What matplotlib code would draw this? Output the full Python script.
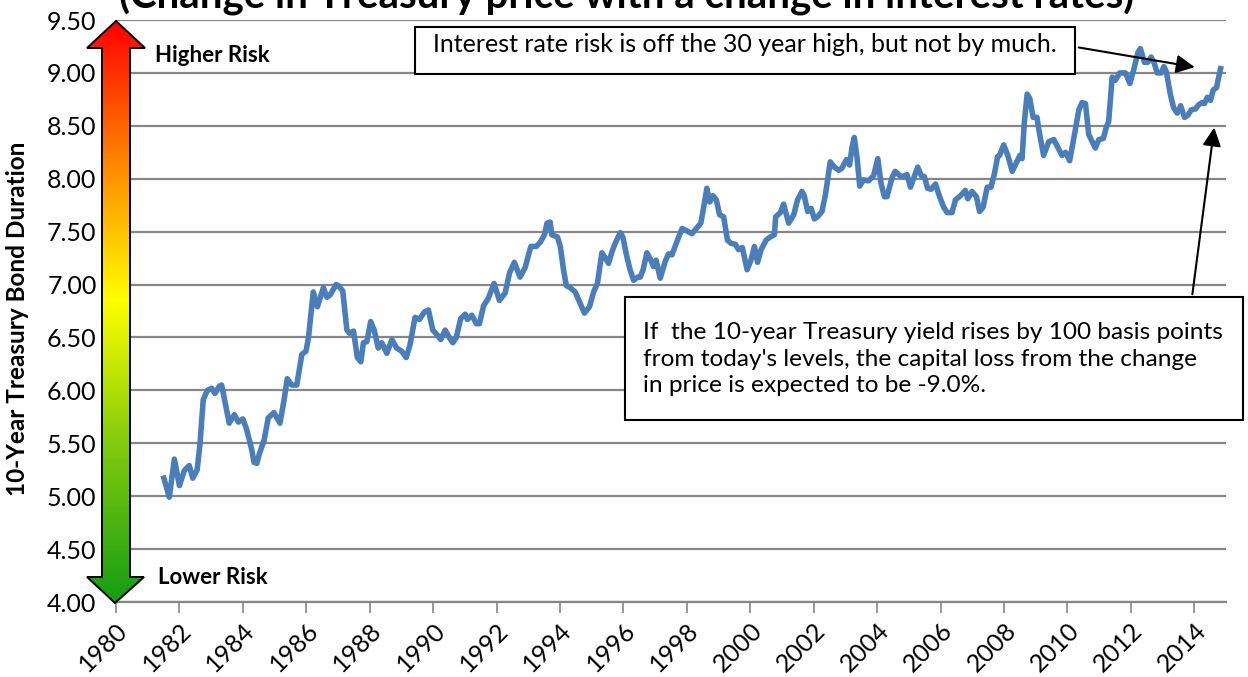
import matplotlib.pyplot as plt
import matplotlib.transforms as mtransforms
import numpy as np
from matplotlib.colors import LinearSegmentedColormap
from matplotlib.patches import Polygon, Rectangle

plt.rcParams["font.family"] = ["Lato", "DejaVu Sans"]

# 10-year Treasury bond duration (decimal year, duration)
years = [
    1981.51, 1981.68, 1981.84, 1982.00, 1982.15, 1982.31, 1982.42, 1982.56, 1982.65, 1982.75,
    1982.88, 1983.02, 1983.12, 1983.26, 1983.33, 1983.47, 1983.57, 1983.73, 1983.86, 1984.00,
    1984.12, 1984.28, 1984.35, 1984.44, 1984.52, 1984.67, 1984.80, 1984.98, 1985.17, 1985.30,
    1985.40, 1985.54, 1985.70, 1985.86, 1985.99, 1986.07, 1986.22, 1986.35, 1986.54, 1986.65,
    1986.75, 1986.94, 1987.01, 1987.15, 1987.28, 1987.36, 1987.49, 1987.61, 1987.72, 1987.80,
    1987.91, 1988.03, 1988.14, 1988.27, 1988.38, 1988.54, 1988.70, 1988.85, 1989.01, 1989.15,
    1989.27, 1989.43, 1989.57, 1989.72, 1989.85, 1989.99, 1990.14, 1990.24, 1990.38, 1990.51,
    1990.62, 1990.73, 1990.87, 1991.01, 1991.08, 1991.22, 1991.36, 1991.46, 1991.59, 1991.74,
    1991.92, 1992.09, 1992.27, 1992.41, 1992.56, 1992.74, 1992.90, 1993.08, 1993.25, 1993.38,
    1993.51, 1993.59, 1993.69, 1993.74, 1993.92, 1994.01, 1994.11, 1994.20, 1994.32, 1994.48,
    1994.64, 1994.77, 1994.93, 1995.06, 1995.18, 1995.32, 1995.43, 1995.53, 1995.64, 1995.74,
    1995.90, 1995.98, 1996.11, 1996.21, 1996.32, 1996.45, 1996.53, 1996.62, 1996.74, 1996.85,
    1996.95, 1997.03, 1997.16, 1997.32, 1997.42, 1997.53, 1997.69, 1997.85, 1997.98, 1998.16,
    1998.30, 1998.44, 1998.53, 1998.63, 1998.72, 1998.82, 1998.93, 1999.03, 1999.16, 1999.28,
    1999.39, 1999.53, 1999.63, 1999.75, 1999.90, 2000.02, 2000.13, 2000.23, 2000.34, 2000.50,
    2000.63, 2000.76, 2000.80, 2000.95, 2001.05, 2001.21, 2001.37, 2001.49, 2001.63, 2001.70,
    2001.81, 2001.92, 2002.02, 2002.12, 2002.26, 2002.37, 2002.52, 2002.65, 2002.79, 2002.89,
    2003.03, 2003.13, 2003.21, 2003.28, 2003.37, 2003.45, 2003.57, 2003.73, 2003.89, 2004.02,
    2004.12, 2004.23, 2004.31, 2004.47, 2004.57, 2004.71, 2004.82, 2004.94, 2005.05, 2005.17,
    2005.28, 2005.39, 2005.49, 2005.59, 2005.70, 2005.84, 2005.97, 2006.10, 2006.21, 2006.36,
    2006.47, 2006.63, 2006.78, 2006.86, 2006.99, 2007.13, 2007.23, 2007.34, 2007.47, 2007.59,
    2007.70, 2007.80, 2007.86, 2007.99, 2008.12, 2008.26, 2008.39, 2008.50, 2008.57, 2008.64,
    2008.73, 2008.81, 2008.92, 2009.04, 2009.10, 2009.25, 2009.41, 2009.57, 2009.69, 2009.83,
    2009.94, 2010.07, 2010.20, 2010.36, 2010.46, 2010.57, 2010.67, 2010.78, 2010.88, 2010.99,
    2011.13, 2011.23, 2011.30, 2011.41, 2011.51, 2011.65, 2011.83, 2011.97, 2012.09, 2012.22,
    2012.30, 2012.43, 2012.53, 2012.64, 2012.74, 2012.83, 2012.96, 2013.04, 2013.12, 2013.25,
    2013.35, 2013.46, 2013.57, 2013.69, 2013.80, 2013.90, 2014.04, 2014.14, 2014.25, 2014.32,
    2014.41, 2014.51, 2014.60, 2014.70, 2014.77, 2014.83,
]
duration = [
    5.17, 4.99, 5.35, 5.10, 5.24, 5.29, 5.17, 5.25, 5.50, 5.91,
    6.00, 6.02, 5.97, 6.04, 6.05, 5.84, 5.69, 5.77, 5.70, 5.73,
    5.63, 5.44, 5.32, 5.31, 5.40, 5.53, 5.74, 5.79, 5.69, 5.91,
    6.11, 6.05, 6.05, 6.34, 6.37, 6.50, 6.93, 6.79, 6.97, 6.88,
    6.90, 7.00, 6.99, 6.94, 6.57, 6.54, 6.56, 6.31, 6.27, 6.45,
    6.46, 6.65, 6.57, 6.40, 6.45, 6.35, 6.48, 6.40, 6.37, 6.31,
    6.43, 6.69, 6.67, 6.74, 6.76, 6.57, 6.52, 6.48, 6.57, 6.50,
    6.45, 6.50, 6.68, 6.72, 6.67, 6.71, 6.63, 6.63, 6.80, 6.87,
    7.01, 6.85, 6.92, 7.11, 7.21, 7.07, 7.16, 7.36, 7.36, 7.40,
    7.47, 7.58, 7.59, 7.47, 7.45, 7.36, 7.14, 6.99, 6.97, 6.93,
    6.82, 6.73, 6.79, 6.93, 7.01, 7.30, 7.25, 7.20, 7.31, 7.39,
    7.49, 7.45, 7.26, 7.14, 7.04, 7.07, 7.07, 7.14, 7.30, 7.24,
    7.17, 7.23, 7.06, 7.22, 7.29, 7.28, 7.41, 7.53, 7.51, 7.48,
    7.53, 7.58, 7.73, 7.91, 7.78, 7.84, 7.80, 7.66, 7.64, 7.42,
    7.39, 7.38, 7.33, 7.35, 7.14, 7.23, 7.36, 7.21, 7.33, 7.42,
    7.45, 7.47, 7.64, 7.68, 7.76, 7.58, 7.66, 7.80, 7.88, 7.84,
    7.69, 7.72, 7.62, 7.64, 7.69, 7.85, 8.16, 8.11, 8.08, 8.10,
    8.18, 8.13, 8.30, 8.39, 8.19, 7.93, 7.99, 7.98, 8.03, 8.19,
    7.96, 7.83, 7.83, 8.01, 8.07, 8.03, 8.02, 8.04, 7.92, 8.02,
    8.11, 8.03, 8.02, 7.91, 7.90, 7.95, 7.83, 7.73, 7.68, 7.68,
    7.80, 7.84, 7.89, 7.81, 7.88, 7.83, 7.69, 7.73, 7.92, 7.92,
    8.05, 8.21, 8.22, 8.32, 8.22, 8.07, 8.15, 8.22, 8.19, 8.53,
    8.80, 8.76, 8.58, 8.58, 8.46, 8.22, 8.35, 8.37, 8.30, 8.22,
    8.25, 8.17, 8.38, 8.65, 8.72, 8.71, 8.42, 8.35, 8.29, 8.37,
    8.38, 8.49, 8.54, 8.96, 8.93, 9.00, 9.00, 8.90, 9.03, 9.19,
    9.23, 9.10, 9.10, 9.15, 9.09, 9.00, 9.00, 9.06, 9.01, 8.79,
    8.67, 8.62, 8.69, 8.58, 8.60, 8.65, 8.66, 8.70, 8.72, 8.71,
    8.77, 8.74, 8.84, 8.86, 8.96, 9.04,
]

x_ticks = list(range(1980, 2015, 2))
y_ticks = [4.0, 4.5, 5.0, 5.5, 6.0, 6.5, 7.0, 7.5, 8.0, 8.5, 9.0, 9.5]

TITLE = "(Change in Treasury price with a change in interest rates)"
NOTE_TOP = "Interest rate risk is off the 30 year high, but not by much."
NOTE_BOTTOM = (
    "If  the 10-year Treasury yield rises by 100 basis points\n"
    "from today's levels, the capital loss from the change\n"
    "in price is expected to be -9.0%."
)

W, H = 1248, 677
GRID = "#868686"

fig = plt.figure(figsize=(W / 100, H / 100), dpi=100)
fig.patch.set_facecolor("white")

ax = fig.add_axes([116 / W, 1 - 602 / H, (1226 - 116) / W, (602 - 20) / H])
ax.plot(years, duration, color="#4a7ebb", lw=4.0, solid_joinstyle="round", zorder=3)
ax.set_xlim(1980, 2015)
ax.set_ylim(4, 9.5)
ax.set_yticks(y_ticks)
ax.set_yticklabels([f"{v:.2f}" for v in y_ticks])
ax.set_xticks(x_ticks)
ax.set_xticklabels([str(y) for y in x_ticks], rotation=45, ha="right",
                   rotation_mode="anchor")
# Excel places the rotated year labels a little right of / below the tick
shift = mtransforms.ScaledTranslation(8 / 100, -4 / 100, fig.dpi_scale_trans)
for lbl in ax.get_xticklabels():
    lbl.set_transform(lbl.get_transform() + shift)
ax.grid(axis="y", color=GRID, lw=1.6)
ax.set_axisbelow(True)
for side in ("top", "right", "left"):
    ax.spines[side].set_visible(False)
ax.spines["bottom"].set_color(GRID)
ax.spines["bottom"].set_linewidth(1.6)
ax.tick_params(axis="x", length=8, width=1.2, color=GRID, labelsize=18, pad=4)
ax.tick_params(axis="y", length=0, labelsize=18, pad=14)

# overlay in pixel coordinates for the risk arrow, title and notes
ov = fig.add_axes([0, 0, 1, 1], zorder=5)
ov.set_xlim(0, W)
ov.set_ylim(H, 0)
ov.axis("off")

arrow_pts = [
    (116, 21), (87, 48), (102, 48), (102, 577), (87, 577), (115, 603),
    (144, 577), (130, 577), (130, 48), (145, 48),
]
cmap = LinearSegmentedColormap.from_list(
    "risk",
    [(0, "#ff0000"), (0.25, "#ff8a00"), (0.48, "#ffff00"), (0.72, "#86cc0c"), (1, "#139d13")],
)
grad = np.linspace(0, 1, 256).reshape(-1, 1)
im = ov.imshow(grad, cmap=cmap, extent=(86, 146, 603, 21), origin="upper",
               aspect="auto", zorder=1)
clip = Polygon(arrow_pts, closed=True, transform=ov.transData, fc="none", ec="none")
ov.add_patch(clip)
im.set_clip_path(clip)
ov.add_patch(Polygon(arrow_pts, closed=True, fc="none", ec="black", lw=1.4, zorder=2))
ov.set_xlim(0, W)
ov.set_ylim(H, 0)

ov.text(155, 55, "Higher Risk", fontsize=16, fontweight="bold", va="center")
ov.text(158, 577, "Lower Risk", fontsize=16, fontweight="bold", va="center")
ov.text(627, 9, TITLE, fontsize=29, fontweight="bold", ha="center", va="baseline")
fig.text(18 / W, 1 - 319 / H, "10-Year Treasury Bond Duration", rotation=90,
         fontsize=17.5, fontweight="bold", ha="center", va="center")

ov.add_patch(Rectangle((415, 27), 660, 47, fc="white", ec="black", lw=1.5, zorder=3))
ov.text(745, 45, NOTE_TOP, fontsize=18, ha="center", va="center", zorder=4)
ov.add_patch(Rectangle((625, 297), 618, 123, fc="white", ec="black", lw=1.5, zorder=3))
ov.text(643, 359, NOTE_BOTTOM, fontsize=17.6, ha="left", va="center",
        linespacing=1.35, zorder=4)

arrow_kw = dict(arrowstyle="-|>", color="black", lw=1.5, mutation_scale=28)
ax.annotate("", xy=(2014.1, 9.05), xycoords="data", xytext=(1076, H - 47),
            textcoords="figure pixels", arrowprops=arrow_kw, zorder=6)
ax.annotate("", xy=(2014.64, 8.51), xycoords="data", xytext=(1192, H - 297),
            textcoords="figure pixels", arrowprops=arrow_kw, zorder=6)

fig.savefig("out.png", dpi=100)
